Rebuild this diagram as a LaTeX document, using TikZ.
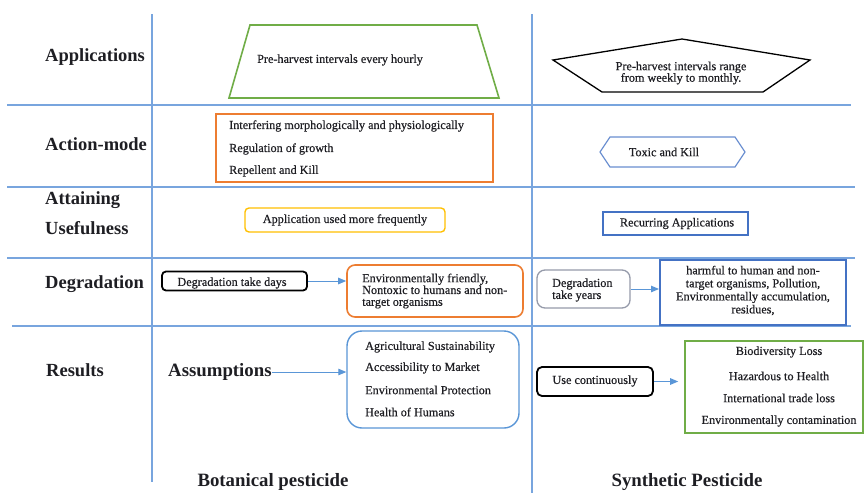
\documentclass[tikz,border=0pt]{standalone}
\usepackage{fontspec}
\setmainfont{Liberation Serif}
\newfontfamily\boxfont[FakeBold=0.5]{Liberation Serif}
\usetikzlibrary{arrows.meta}
\definecolor{gridblue}{RGB}{120,165,222}
\definecolor{arrblue}{RGB}{90,150,215}
\definecolor{boxgreen}{RGB}{112,173,71}
\definecolor{boxorange}{RGB}{237,125,49}
\definecolor{boxyellow}{RGB}{255,192,0}
\definecolor{boxblue}{RGB}{68,114,196}
\definecolor{boxgray}{RGB}{150,155,170}
\definecolor{txt}{RGB}{30,30,35}
\begin{document}
\begin{tikzpicture}[x=1pt,y=-1pt,
  gridline/.style={draw=gridblue,line width=1.1pt},
  rowlab/.style={anchor=west,inner sep=0pt,text=txt,font=\fontsize{18.5}{21}\selectfont\bfseries,align=left},
  bigbold/.style={inner sep=0pt,text=txt,font=\fontsize{18.8}{21}\selectfont\bfseries},
  boxtxt/.style={inner sep=0pt,text=txt,font=\boxfont\fontsize{12.2}{12}\selectfont},
  plainbox/.style={inner sep=0pt},
  arr/.style={draw=arrblue,line width=1pt,-{Triangle[length=8pt,width=6.5pt]}}
]
\useasboundingbox (0,0) rectangle (864,493);
\fill[white] (0,0) rectangle (864,493);

% grid lines
\draw[gridline] (152,14) -- (152,482);
\draw[gridline] (532,14) -- (532,493);
\draw[gridline] (7,105) -- (851,105);
\draw[gridline] (7,187) -- (855,187);
\draw[gridline] (7,258) -- (855,258);
\draw[gridline] (12,326) -- (851,326);

% row labels
\node[rowlab] (lapp) at (45,57) {Applications};
\node[rowlab] (lact) at (45,144) {Action-mode};
\node[rowlab] (latt) at (45,200) {Attaining};
\node[rowlab] (luse) at (45,228) {Usefulness};
\node[rowlab] (ldeg) at (45,284) {Degradation};
\node[rowlab] (lres) at (46,370) {Results};

% Applications
\draw[draw=boxgreen,line width=1.6pt] (250,25) -- (477,25) -- (499,98) -- (229,98) -- cycle;
\node[boxtxt] (tapp) at (340,60) {Pre-harvest intervals every hourly};
\draw[draw=black,line width=1.3pt] (553,60) -- (682,39) -- (810,60) -- (763,92) -- (602,92) -- cycle;
\node[boxtxt,align=center,font=\boxfont\fontsize{12.2}{11.5}\selectfont] (tapps) at (681,73) {Pre-harvest intervals range\\from weekly to monthly.};

% Action-mode
\node[plainbox,draw=boxorange,line width=1.6pt,minimum width=277pt,minimum height=68pt] (actb) at (354.5,148) {};
\node[boxtxt,anchor=west] (act1) at (229,126) {Interfering morphologically and physiologically};
\node[boxtxt,anchor=west] (act2) at (229,149) {Regulation of growth};
\node[boxtxt,anchor=west] (act3) at (229,171) {Repellent and Kill};
\draw[draw=boxblue!80,line width=1.2pt] (600,152) -- (610,137) -- (735,137) -- (745,152) -- (735,167) -- (610,167) -- cycle;
\node[boxtxt] (tox) at (664,152) {Toxic and Kill};

% Attaining usefulness
\node[plainbox,draw=boxyellow,line width=1.4pt,rounded corners=4pt,minimum width=200pt,minimum height=24pt] (freq) at (345,220) {};
\node[boxtxt] (freqt) at (345,220) {Application used more frequently};
\node[plainbox,draw=boxblue,line width=1.8pt,minimum width=145pt,minimum height=23pt] (recur) at (675.5,223.5) {};
\node[boxtxt] (recurt) at (677,223.5) {Recurring Applications};

% Degradation
\node[plainbox,draw=black,line width=1.8pt,rounded corners=4pt,minimum width=145pt,minimum height=19pt] (ddays) at (234.5,281) {};
\node[boxtxt] (ddayst) at (232,283) {Degradation take days};
\node[plainbox,draw=boxorange,line width=1.6pt,rounded corners=8pt,minimum width=176pt,minimum height=52pt] (denv) at (435,291) {};
\node[boxtxt,anchor=west,align=left,font=\boxfont\fontsize{12.2}{11.8}\selectfont] (denvt) at (362,291) {Environmentally friendly,\\Nontoxic to humans and non-\\target organisms};
\draw[arr] (ddays.east) -- (denv.west |- ddays.east);

\node[plainbox,draw=boxgray,line width=1.3pt,rounded corners=8pt,minimum width=93pt,minimum height=38pt] (dyears) at (583.5,289) {};
\node[boxtxt,anchor=west,align=left] (dyearst) at (552,290) {Degradation\\take years};
\node[plainbox,draw=boxblue,line width=2pt,minimum width=186pt,minimum height=65pt] (dharm) at (753,292.5) {};
\node[boxtxt,align=center,font=\boxfont\fontsize{12.2}{13}\selectfont] (dharmt) at (753,290.5) {harmful to human and non-\\target organisms, Pollution,\\Environmentally accumulation,\\residues,};
\draw[arr] (dyears.east) -- (dharm.west |- dyears.east);

% Results
\node[bigbold,anchor=west] (assum) at (168,372) {Assumptions};
\node[plainbox,draw=arrblue,line width=1.4pt,rounded corners=15pt,minimum width=172pt,minimum height=97pt] (abox) at (433,379.5) {};
\node[boxtxt,anchor=west] (a1) at (365,347) {Agricultural Sustainability};
\node[boxtxt,anchor=west] (a2) at (365,368) {Accessibility to Market};
\node[boxtxt,anchor=west] (a3) at (365,390) {Environmental Protection};
\node[boxtxt,anchor=west] (a4) at (365,412) {Health of Humans};
\draw[arr] (assum.east) -- (abox.west |- assum.east);

\node[plainbox,draw=black,line width=1.8pt,rounded corners=5pt,minimum width=116pt,minimum height=29pt] (usec) at (595,381.5) {};
\node[boxtxt] (usect) at (595,381) {Use continuously};
\node[plainbox,draw=boxgreen,line width=1.6pt,minimum width=178pt,minimum height=92pt] (gbox) at (774,387) {};
\node[boxtxt] (g1) at (779,352) {Biodiversity Loss};
\node[boxtxt] (g2) at (779,376) {Hazardous to Health};
\node[boxtxt] (g3) at (779,398) {International trade loss};
\node[boxtxt] (g4) at (779,421) {Environmentally contamination};
\draw[arr,shorten >=6pt] (usec.east) -- (gbox.west |- usec.east);

% bottom labels
\node[bigbold] (bot) at (273,482) {Botanical pesticide};
\node[bigbold] (syn) at (687,482) {Synthetic Pesticide};
\end{tikzpicture}
\end{document}
